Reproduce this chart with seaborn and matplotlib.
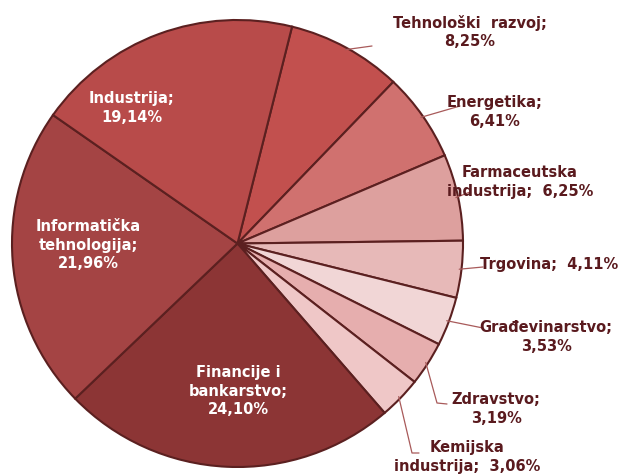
import matplotlib
matplotlib.use("Agg")
import matplotlib.pyplot as plt
import seaborn as sns
import numpy as np

# data
sectors = ["Tehnološki razvoj", "Energetika", "Farmaceutska industrija", "Trgovina",
           "Građevinarstvo", "Zdravstvo", "Kemijska industrija",
           "Financije i bankarstvo", "Informatička tehnologija", "Industrija"]
shares = [8.25, 6.41, 6.25, 4.11, 3.53, 3.19, 3.06, 24.10, 21.96, 19.14]
label_text = ["Tehnološki  razvoj;\n8,25%", "Energetika;\n6,41%", "Farmaceutska\nindustrija;  6,25%",
              "Trgovina;  4,11%", "Građevinarstvo;\n3,53%", "Zdravstvo;\n3,19%",
              "Kemijska\nindustrija;  3,06%", "Financije i\nbankarstvo;\n24,10%",
              "Informatička\ntehnologija;\n21,96%", "Industrija;\n19,14%"]

slice_colors = ["#C2504E", "#D0716F", "#DDA09E", "#E7B9B8", "#F1D6D6",
                "#E6AEAE", "#EFC7C7", "#8C3535", "#A44444", "#B84B4A"]

sns.set_theme(style="white")
plt.rcParams["font.family"] = ["DejaVu Sans"]

W, H = 623, 476
fig = plt.figure(figsize=(W / 100, H / 100), dpi=100)
ax = fig.add_axes([0, 0, 1, 1])

# pixel geometry of the pie in the reference
cx, cy, rx, ry = 237.5, 243.5, 225.5, 223.5


def px(x, y):
    return (x - cx) / rx, (cy - y) / ry


wedges, _ = ax.pie(shares, colors=slice_colors, startangle=76, counterclock=False,
                   radius=1, wedgeprops=dict(edgecolor="#5B2020", linewidth=1.5))
ax.set_aspect("auto")
ax.set_xlim(-cx / rx, (W - cx) / rx)
ax.set_ylim(-(H - cy) / ry, cy / ry)
ax.axis("off")

# label layout: (text centre px, leader path px, inside?)
layout = [
    ((470, 32), [(372, 46)], False),
    ((495, 112), [(460, 106)], False),
    ((520, 182), [(470, 192)], False),
    ((549, 264), [(483, 267)], False),
    ((546, 337), [(483, 328)], False),
    ((496, 409), [(437, 403), (447, 404)], False),
    ((467, 457), [(412, 453), (419, 453)], False),
    ((238, 391), None, True),
    ((88, 245), None, True),
    ((132, 108), None, True),
]

for w, txt, (pos, path, inside) in zip(wedges, label_text, layout):
    tx, ty = px(*pos)
    if inside:
        ax.text(tx, ty, txt, ha="center", va="center", color="white",
                fontsize=10.5, fontweight="bold", linespacing=1.3)
        continue
    ang = np.deg2rad((w.theta1 + w.theta2) / 2)
    xs, ys = [np.cos(ang) * 0.99], [np.sin(ang) * 0.99]
    for p in path:
        bx, by = px(*p)
        xs.append(bx)
        ys.append(by)
    ax.plot(xs, ys, color="#A85A5A", lw=0.9)
    ax.text(tx, ty, txt, ha="center", va="center", color="#5A1A1E",
            fontsize=10.5, fontweight="bold", linespacing=1.3)

fig.savefig("out.png", dpi=100)
